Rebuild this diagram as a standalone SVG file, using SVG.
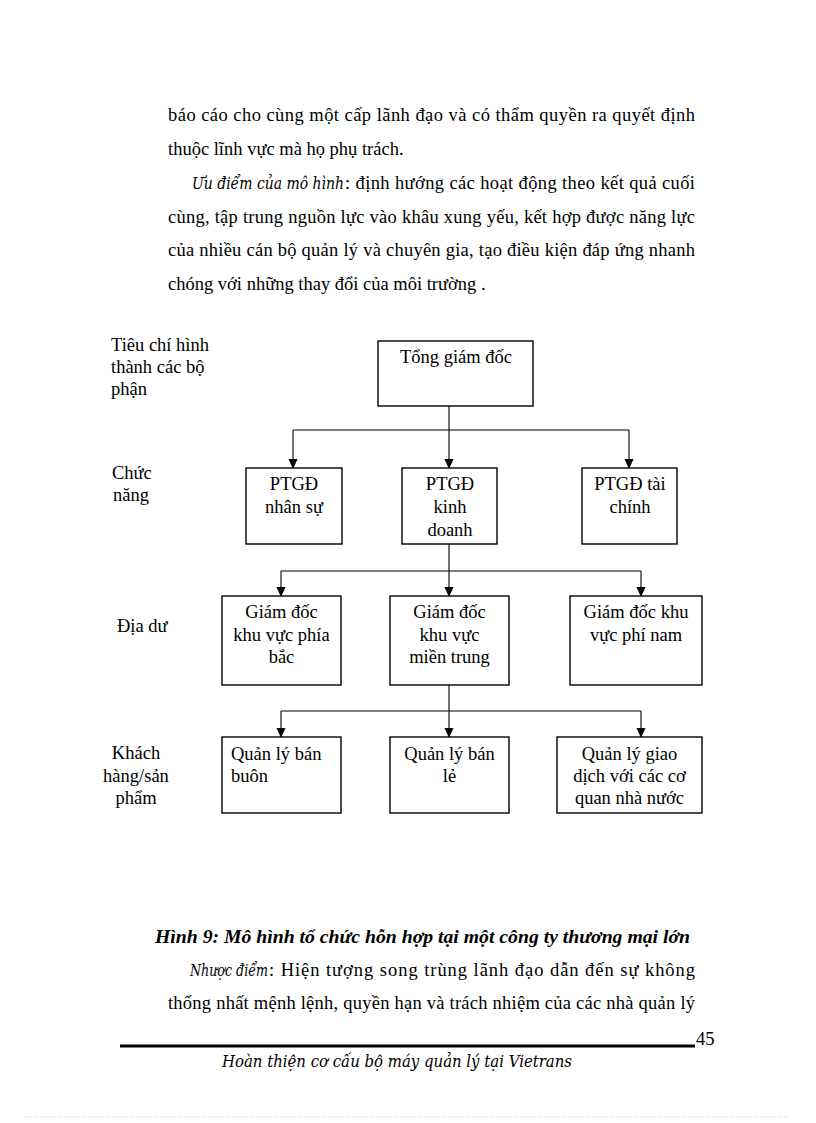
<svg xmlns="http://www.w3.org/2000/svg" width="816" height="1123" viewBox="0 0 816 1123">
<defs>
<marker id="arr" markerUnits="userSpaceOnUse" markerWidth="10" markerHeight="12" refX="9" refY="4.5" orient="auto">
<path d="M0,0 L10,4.5 L0,9 Z" fill="#000"/>
</marker>
<style>
.t{font-family:"Liberation Serif","Times New Roman",serif;font-size:18.5px;fill:#000}
.c{text-anchor:middle}
.i{font-family:"DejaVu Serif","Liberation Serif",serif;font-style:italic;font-size:16px;fill:#000}
.cap{font-family:"Liberation Serif","Times New Roman",serif;font-style:italic;font-weight:bold;font-size:18.5px;fill:#000}
.box{fill:#fff;stroke:#000;stroke-width:1.4}
.ln{fill:none;stroke:#000;stroke-width:1.1}
</style>
</defs>
<rect width="816" height="1123" fill="#fff"/>

<g id="body-text">
<text class="t" x="168" y="121" textLength="527" lengthAdjust="spacing">báo cáo cho cùng một cấp lãnh đạo và có thẩm quyền ra quyết định</text>
<text class="t" x="168" y="155">thuộc lĩnh vực mà họ phụ trách.</text>
<text class="t" y="189"><tspan class="i" x="192" textLength="152" lengthAdjust="spacingAndGlyphs">Ưu điểm của mô hình</tspan><tspan x="345" textLength="350" lengthAdjust="spacing">: định hướng các hoạt động theo kết quả cuối</tspan></text>
<text class="t" x="168" y="223" textLength="527" lengthAdjust="spacing">cùng, tập trung nguồn lực vào khâu xung yếu, kết hợp được năng lực</text>
<text class="t" x="168" y="256" textLength="527" lengthAdjust="spacing">của nhiều  cán bộ quản lý và chuyên gia, tạo điều kiện  đáp ứng nhanh</text>
<text class="t" x="168" y="290">chóng với những thay đổi của môi trường .</text>
</g>

<g id="row-labels">
<text class="t" x="111" y="351">Tiêu chí hình</text>
<text class="t" x="111" y="373">thành  các bộ</text>
<text class="t" x="111" y="395">phận</text>
<text class="t" x="112" y="479">Chức</text>
<text class="t" x="113" y="501">năng</text>
<text class="t" x="117" y="632">Địa dư</text>
<text class="t c" x="136" y="759">Khách</text>
<text class="t c" x="136" y="782">hàng/sản</text>
<text class="t c" x="136" y="804">phẩm</text>
</g>

<g id="connectors">
<line class="ln" x1="449" y1="406" x2="449" y2="468" marker-end="url(#arr)"/>
<line class="ln" x1="293" y1="430" x2="629" y2="430"/>
<line class="ln" x1="293" y1="430" x2="293" y2="468" marker-end="url(#arr)"/>
<line class="ln" x1="629" y1="430" x2="629" y2="468" marker-end="url(#arr)"/>
<line class="ln" x1="449" y1="544" x2="449" y2="596" marker-end="url(#arr)"/>
<line class="ln" x1="281" y1="571" x2="641" y2="571"/>
<line class="ln" x1="281" y1="571" x2="281" y2="596" marker-end="url(#arr)"/>
<line class="ln" x1="641" y1="571" x2="641" y2="596" marker-end="url(#arr)"/>
<line class="ln" x1="449" y1="685" x2="449" y2="737" marker-end="url(#arr)"/>
<line class="ln" x1="281" y1="711" x2="641" y2="711"/>
<line class="ln" x1="281" y1="711" x2="281" y2="737" marker-end="url(#arr)"/>
<line class="ln" x1="641" y1="711" x2="641" y2="737" marker-end="url(#arr)"/>
</g>

<g id="n-tgd">
<rect class="box" x="378" y="341" width="155" height="65"/>
<text class="t c" x="456" y="363">Tổng giám  đốc</text>
</g>

<g id="n-ptgd-ns">
<rect class="box" x="246" y="468" width="96" height="76"/>
<text class="t c" x="294" y="490">PTGĐ</text>
<text class="t c" x="294" y="513">nhân sự</text>
</g>
<g id="n-ptgd-kd">
<rect class="box" x="402" y="468" width="95" height="76"/>
<text class="t c" x="450" y="490">PTGĐ</text>
<text class="t c" x="450" y="513">kinh</text>
<text class="t c" x="450" y="536">doanh</text>
</g>
<g id="n-ptgd-tc">
<rect class="box" x="582" y="468" width="95" height="76"/>
<text class="t c" x="630" y="490">PTGĐ tài</text>
<text class="t c" x="630" y="513">chính</text>
</g>

<g id="n-gd-bac">
<rect class="box" x="222" y="596" width="119" height="89"/>
<text class="t c" x="281.5" y="618">Giám  đốc</text>
<text class="t c" x="281.5" y="641">khu vực phía</text>
<text class="t c" x="281.5" y="663">bắc</text>
</g>
<g id="n-gd-trung">
<rect class="box" x="390" y="596" width="119" height="89"/>
<text class="t c" x="449.5" y="618">Giám  đốc</text>
<text class="t c" x="449.5" y="641">khu vực</text>
<text class="t c" x="449.5" y="663">miền  trung</text>
</g>
<g id="n-gd-nam">
<rect class="box" x="570" y="596" width="132" height="89"/>
<text class="t c" x="636" y="618">Giám  đốc khu</text>
<text class="t c" x="636" y="641">vực phí nam</text>
</g>

<g id="n-ql-buon">
<rect class="box" x="222" y="737" width="119" height="76"/>
<text class="t" x="231" y="760">Quản lý  bán</text>
<text class="t" x="231" y="782">buôn</text>
</g>
<g id="n-ql-le">
<rect class="box" x="390" y="737" width="119" height="76"/>
<text class="t c" x="449.5" y="760">Quản lý  bán</text>
<text class="t c" x="449.5" y="782">lẻ</text>
</g>
<g id="n-ql-gd">
<rect class="box" x="557" y="737" width="145" height="76"/>
<text class="t c" x="629.5" y="760">Quản lý giao</text>
<text class="t c" x="629.5" y="782">dịch với các cơ</text>
<text class="t c" x="629.5" y="804">quan nhà nước</text>
</g>

<g id="caption">
<text class="cap" x="155" y="943" textLength="535" lengthAdjust="spacingAndGlyphs">Hình 9: Mô hình tổ chức hỗn hợp tại một công ty thương mại lớn</text>
<text class="t" y="976"><tspan class="i" x="190" textLength="78" lengthAdjust="spacingAndGlyphs">Nhược điểm</tspan><tspan x="269" textLength="426" lengthAdjust="spacing">: Hiện  tượng  song trùng lãnh  đạo dẫn đến sự không</tspan></text>
<text class="t" x="168" y="1009" textLength="527" lengthAdjust="spacing">thống nhất mệnh lệnh,  quyền hạn và trách nhiệm  của các nhà quản lý</text>
</g>

<g id="footer">
<line x1="120" y1="1046" x2="695" y2="1046" stroke="#000" stroke-width="3"/>
<text class="t" x="696" y="1045">45</text>
<text class="i" x="222" y="1067" textLength="350" lengthAdjust="spacingAndGlyphs">Hoàn thiện cơ cấu bộ máy quản lý tại Vietrans</text>
<line x1="25" y1="1117" x2="790" y2="1117" stroke="#ccc" stroke-width="1" stroke-dasharray="1,2"/>
</g>
</svg>
